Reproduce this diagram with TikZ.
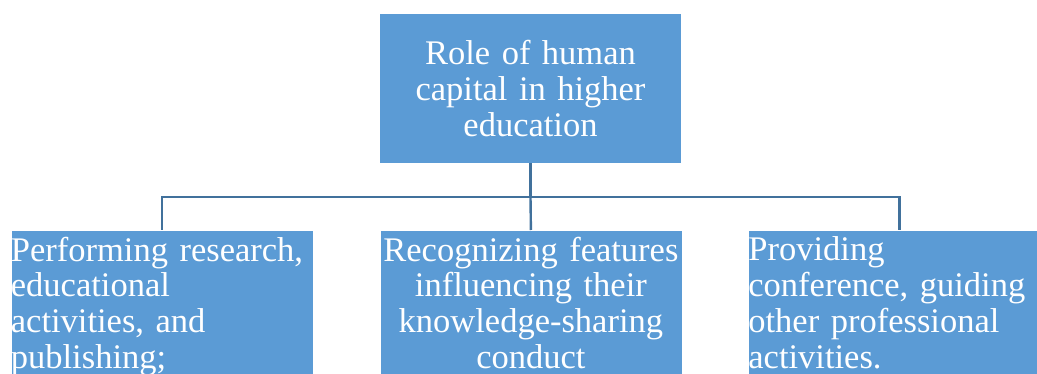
\documentclass[tikz,border=0pt]{standalone}
\usepackage{fontspec}
\setmainfont{Liberation Serif}
\definecolor{boxblue}{HTML}{5B9BD5}
\definecolor{linkblue}{HTML}{41719C}
\begin{document}
\begin{tikzpicture}[x=1pt,y=-1pt,
  box/.style={fill=boxblue, draw=white, line width=0.8pt, text=white,
    font=\fontsize{34.5}{35.8}\selectfont, text width=302pt, inner xsep=0pt},
  topbox/.style={box, align=center, minimum height=149.5pt, inner ysep=0pt},
  lowbox/.style={box, anchor=north west, inner ysep=6.5pt},
  conn/.style={draw=linkblue, line width=2.4pt}]
\useasboundingbox (0,0) rectangle (1037,374);
\clip (0,0) rectangle (1037,374);
\node[topbox] (top) at (530.5,88.25) {Role of human\\capital in higher\\education};
\node[lowbox, align=left] (b1) at (10.5,230) {Performing research,\\educational\\activities, and\\publishing;\strut};
\node[lowbox, align=center] (b2) at (379.5,230) {Recognizing features\\influencing their\\knowledge-sharing\\conduct\strut};
\node[lowbox, align=left] (b3) at (748,230) {Providing\\conference, guiding\\other professional\\activities.\strut};
\draw[conn] (top.south) -- ++(0,33.5) coordinate (bus) -| (b1.north);
\draw[conn] (bus) -| (b3.north);
\draw[conn] (bus) -- (b2.north);
\end{tikzpicture}
\end{document}
